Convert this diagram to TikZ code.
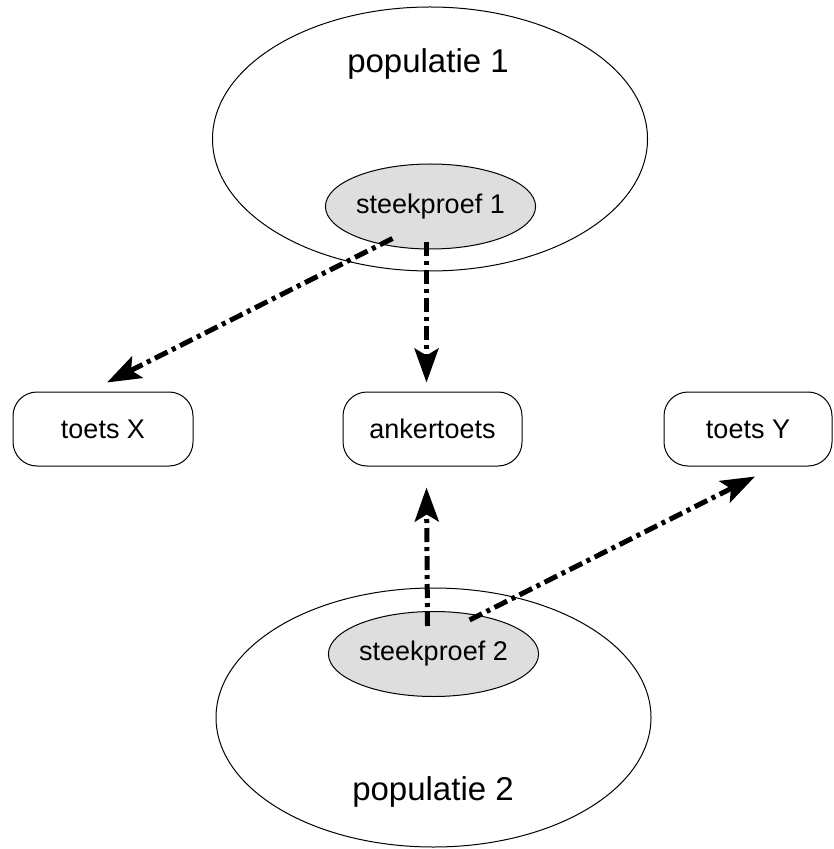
\documentclass[tikz,border=0pt]{standalone}
\usepackage{fontspec}
\setmainfont{Liberation Sans}
\usetikzlibrary{arrows.meta,shapes.geometric}

\begin{document}
\begin{tikzpicture}[x=0.5pt,y=-0.5pt]
    \tikzstyle{pop}=[ellipse,draw,line width=0.5pt,inner sep=0pt,minimum width=217.5pt]
    \tikzstyle{sample}=[ellipse,draw,line width=0.5pt,fill=black!13,inner sep=0pt,
      minimum width=97.5pt,minimum height=42.5pt,font=\fontsize{13.5pt}{16pt}\selectfont]
    \tikzstyle{toets}=[rectangle,rounded corners=12pt,draw,line width=0.5pt,inner sep=0pt,
      minimum height=37pt,font=\fontsize{13.5pt}{16pt}\selectfont]
    \tikzstyle{label}=[inner sep=0pt,font=\fontsize{16.5pt}{19pt}\selectfont]
    \tikzstyle{link}=[-{Stealth[length=17pt,width=12pt,inset=3.5pt]},line width=2.5pt,
      dash pattern=on 7pt off 2.5pt on 2pt off 2.5pt]
    \useasboundingbox (0,0) rectangle (833,849);
    % populations with their samples
    \node[pop,minimum height=132pt] (pop1) at (430,139) {};
    \node[label] (lab1) at (428,64) {populatie 1};
    \node[sample] (s1) at (430.5,206.5) {steekproef 1};
    \node[pop,minimum height=129.5pt] (pop2) at (433.5,717.5) {};
    \node[label] (lab2) at (433,792) {populatie 2};
    \node[sample] (s2) at (433.5,654) {steekproef 2};
    % tests
    \node[toets,minimum width=90pt] (tx) at (103,429) {toets X};
    \node[toets,minimum width=89.5pt] (ak) at (432.5,429) {ankertoets};
    \node[toets,minimum width=84pt] (ty) at (748,429) {toets Y};
    % links
    \draw[link] ([xshift=-19pt,yshift=-16pt]s1.center) -- ([xshift=2pt,yshift=4.5pt]tx.north);
    \draw[link] ([xshift=-2pt,yshift=3.5pt]s1.south) -- ([xshift=-3pt,yshift=4.5pt]ak.north);
    \draw[link] ([xshift=-3pt,yshift=-7.5pt]s2.north) -- ([xshift=-3pt,yshift=-10.5pt]ak.south);
    \draw[link] ([xshift=18pt,yshift=-4.5pt]s2.north) -- ([xshift=3.5pt,yshift=-5pt]ty.south);
\end{tikzpicture}
\end{document}
